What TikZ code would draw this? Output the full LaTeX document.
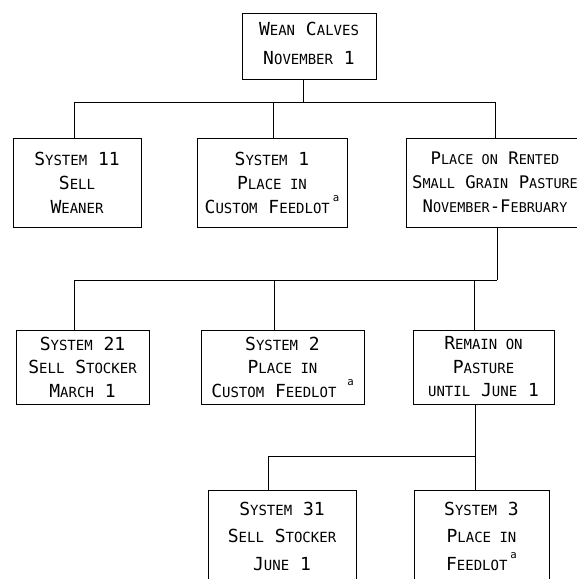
\documentclass[tikz,border=0pt]{standalone}
\usepackage{fontspec}
\setmainfont{DejaVu Sans Mono}
\usepackage{tikz}
\usetikzlibrary{positioning,calc}

% small caps by hand
\newcommand{\sm}[1]{{\fontsize{10.5}{10.5}\selectfont #1}}
\newcommand{\smn}[1]{{\fontsize{10.1}{10.1}\selectfont #1}}
\newcommand{\fnote}{\raisebox{1.2ex}{\fontsize{8}{8}\selectfont a}}

\begin{document}
\begin{tikzpicture}[
  x=0.75pt, y=-0.75pt,
  box/.style={rectangle,draw,line width=0.7pt,inner sep=0pt,align=center},
  tierA/.style={box,minimum height=66.75pt,font=\fontsize{13.5}{18}\selectfont},
  tierB/.style={box,minimum height=55.5pt,font=\fontsize{13.5}{17.6}\selectfont},
  tierC/.style={box,minimum height=69pt,font=\fontsize{13.5}{20.6}\selectfont},
  link/.style={line width=0.7pt}
]
\useasboundingbox (0,0) rectangle (577,579);

% Nodes
\node[box,minimum width=100.5pt,minimum height=49.5pt,font=\fontsize{13.5}{21.75}\selectfont]
  (wean) at (309,46) {W\sm{EAN} C\sm{ALVES}\\N\sm{OVEMBER} 1\\[-17pt]};

\node[tierA,minimum width=96pt]    (s11) at (77,182.5) {S\sm{YSTEM} 11\\S\sm{ELL}\\W\sm{EANER}};
\node[tierA,minimum width=112.5pt] (s1)  at (272,182.5) {S\sm{YSTEM} 1\\P\sm{LACE IN}\\C\sm{USTOM} F\sm{EEDLOT}\,\fnote};
\node[tierA,minimum width=133.5pt,font=\fontsize{13}{18}\selectfont] (pasture) at (495,182.5)
  {P\smn{LACE ON} R\smn{ENTED}\\S\smn{MALL} G\smn{RAIN} P\smn{ASTURE}\\N\smn{OVEMBER}-F\smn{EBRUARY}};

\node[tierB,minimum width=99.75pt]  (s21) at (82.5,367) {S\sm{YSTEM} 21\\S\sm{ELL} S\sm{TOCKER}\\M\sm{ARCH} 1};
\node[tierB,minimum width=122.25pt] (s2)  at (282.5,367) {S\sm{YSTEM} 2\\P\sm{LACE IN}\\C\sm{USTOM} F\sm{EEDLOT} \fnote};
\node[tierB,minimum width=105.75pt] (remain) at (483.5,367) {R\sm{EMAIN ON}\\P\sm{ASTURE}\\\sm{UNTIL} J\sm{UNE} 1};

\node[tierC,minimum width=111pt]    (s31) at (282,536) {S\sm{YSTEM} 31\\S\sm{ELL} S\sm{TOCKER}\\J\sm{UNE} 1};
\node[tierC,minimum width=101.25pt] (s3)  at (481.5,536) {S\sm{YSTEM} 3\\P\sm{LACE IN}\\F\sm{EEDLOT}\,\fnote};

% Junctions
\coordinate (j0)  at (303,102);
\coordinate (j11) at (74,102);
\coordinate (j1)  at (273,102);
\coordinate (jp)  at (495,102);
\coordinate (jq)  at (497,280);
\coordinate (j21) at (74,280);
\coordinate (j2)  at (274,280);
\coordinate (jr)  at (474,280);
\coordinate (j31) at (268,456);
\coordinate (j3)  at (475,456);

% Branches from weaning
\draw[link] (j0 |- wean.south) -- (j0);
\draw[link] (j11) -- (jp);
\draw[link] (j11) -- (j11 |- s11.north);
\draw[link] (j1) -- (j1 |- s1.north);
\draw[link] (jp) -- (jp |- pasture.north);

% Branches from pasture
\draw[link] (jq |- pasture.south) -- (jq);
\draw[link] (j21) -- (jq);
\draw[link] (j21) -- (j21 |- s21.north);
\draw[link] (j2) -- (j2 |- s2.north);
\draw[link] (jr) -- (jr |- remain.north);

% Branches from remaining on pasture
\draw[link] (j3 |- remain.south) -- (j3 |- s3.north);
\draw[link] (j31) -- (j3);
\draw[link] (j31) -- (j31 |- s31.north);
\end{tikzpicture}
\end{document}
